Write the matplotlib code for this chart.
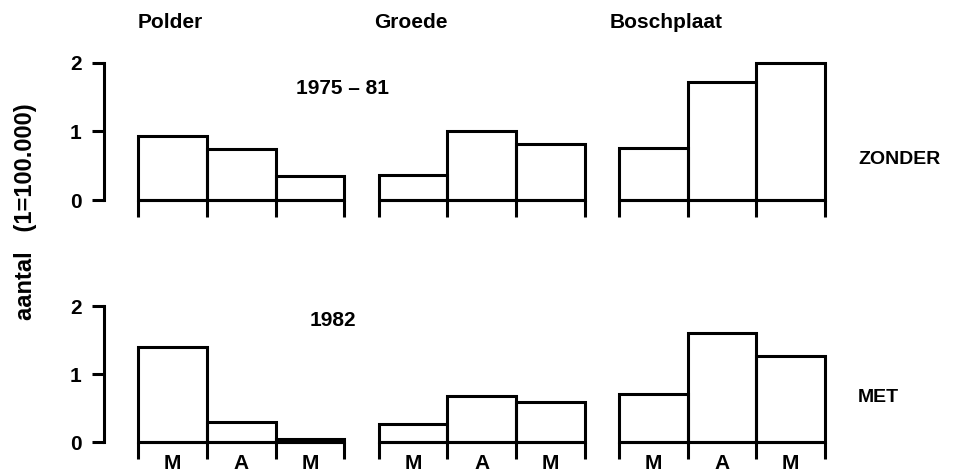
import matplotlib
matplotlib.use("Agg")
import matplotlib.pyplot as plt
import numpy as np

plt.rcParams['font.family'] = ['Liberation Sans', 'DejaVu Sans']
plt.rcParams['font.weight'] = 'bold'

sites = ["Polder", "Groede", "Boschplaat"]
months = ["M", "A", "M"]
rows = ["ZONDER", "MET"]
periods = ["1975 – 81", "1982"]
zonder_1975_81 = {"Polder": [0.94, 0.75, 0.35],
                  "Groede": [0.37, 1.00, 0.82],
                  "Boschplaat": [0.76, 1.72, 2.00]}
met_1982 = {"Polder": [1.40, 0.29, 0.05],
            "Groede": [0.26, 0.68, 0.59],
            "Boschplaat": [0.71, 1.60, 1.26]}
yticks = [0, 1, 2]
ylabel = "aantal   (1=100.000)"

W, H = 969, 474
fig = plt.figure(figsize=(W / 100, H / 100), dpi=100)

LW = 2.2
group_start = [0.0, 3.5, 7.0]


def make_ax(y0_px, y2_px):
    left = 104 / W
    right = 825 / W
    ax = fig.add_axes([left, 1 - y0_px / H, right - left, (y0_px - y2_px) / H])
    ax.set_xlim(-0.5, 10)
    ax.set_ylim(0, 2)
    for s in ["top", "right", "bottom"]:
        ax.spines[s].set_visible(False)
    ax.spines["left"].set_linewidth(LW)
    ax.spines["left"].set_bounds(0, 2)
    ax.set_xticks([])
    ax.set_yticks(yticks)
    ax.set_yticklabels([str(t) for t in yticks], fontsize=15, fontweight='bold')
    ax.tick_params(axis='y', direction='out', length=9, width=LW, pad=7)
    ax.patch.set_visible(False)
    return ax


ax_top = make_ax(200, 63)
ax_bot = make_ax(442, 306)

for ax, data in [(ax_top, zonder_1975_81), (ax_bot, met_1982)]:
    for gs, site in zip(group_start, sites):
        x = gs + np.arange(3)
        ax.bar(x, data[site], width=1.0, align='edge', fill=False,
               edgecolor='black', linewidth=LW, clip_on=False)
        ax.plot([gs, gs + 3], [0, 0], color='black', lw=LW, clip_on=False,
                solid_capstyle='butt')
        for xe in gs + np.arange(4):
            ax.plot([xe, xe], [0, -0.25], color='black', lw=LW, clip_on=False,
                    solid_capstyle='butt')

# month labels under the bottom row
for gs in group_start:
    for i, m in enumerate(months):
        ax_bot.text(gs + i + 0.5, -0.31, m, ha='center', va='center',
                    fontsize=15, fontweight='bold')

# site headers
header_x_px = [170, 411, 666]
for site, xp in zip(sites, header_x_px):
    fig.text(xp / W, 1 - 23 / H, site, ha='center', va='center',
             fontsize=15, fontweight='bold')

# period labels
fig.text(343 / W, 1 - 89 / H, periods[0], ha='center', va='center',
         fontsize=15, fontweight='bold')
fig.text(333 / W, 1 - 321 / H, periods[1], ha='center', va='center',
         fontsize=15, fontweight='bold')

# row labels
fig.text(858 / W, 1 - 160 / H, rows[0], ha='left', va='center',
         fontsize=14, fontweight='bold')
fig.text(858 / W, 1 - 398 / H, rows[1], ha='left', va='center',
         fontsize=14, fontweight='bold')

# y label
fig.text(26 / W, 1 - 212 / H, ylabel, rotation=90, ha='center', va='center',
         fontsize=17, fontweight='bold')

fig.savefig("out.png", dpi=100)
